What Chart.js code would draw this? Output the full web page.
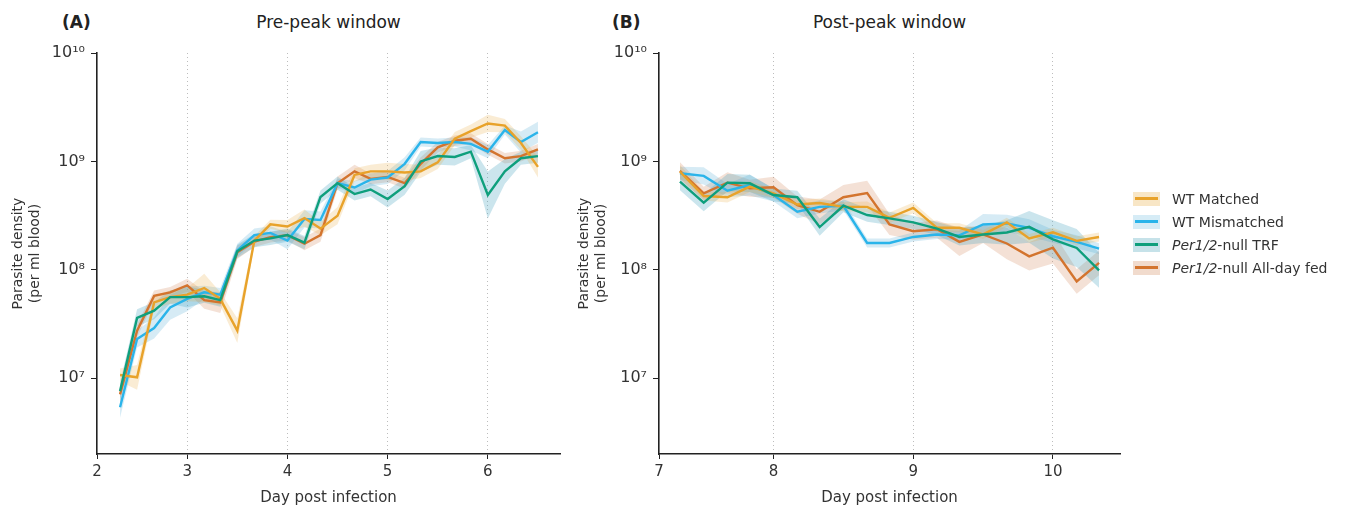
<!DOCTYPE html>
<html>
<head>
<meta charset="utf-8">
<script src="https://cdn.jsdelivr.net/npm/chart.js@4.4.1/dist/chart.umd.min.js"></script>
<style>
  body { margin:0; background:#fff; width:1352px; height:509px; overflow:hidden; position:relative;
         font-family:"DejaVu Sans", Verdana, sans-serif; color:#333; }
  canvas { position:absolute; top:0; }
  .ttl { position:absolute; top:12px; font-size:17px; color:#222; white-space:nowrap; }
  .pl { position:absolute; top:12px; font-size:17px; font-weight:bold; color:#222; }
  #legend { position:absolute; left:1133px; top:187px; font-size:14px; color:#333; }
  .row { height:23px; display:flex; align-items:center; white-space:nowrap; }
  .sw { width:27px; height:14px; position:relative; margin-right:12px; flex:none; }
  .sw i { position:absolute; left:2px; right:2px; top:5px; height:3px; }
</style>
</head>
<body>
<div class="pl" style="left:62px">(A)</div>
<div class="ttl" style="left:97px;width:463px;text-align:center">Pre-peak window</div>
<div class="pl" style="left:612px">(B)</div>
<div class="ttl" style="left:659px;width:461px;text-align:center">Post-peak window</div>
<canvas id="cA" width="580" height="509" style="left:0px;width:580px;height:509px"></canvas>
<canvas id="cB" width="574" height="509" style="left:566px;width:574px;height:509px"></canvas>
<div id="legend"></div>
<script>
// ---------- data ----------
const dayPre  = [2.33,2.5,2.67,2.83,3,3.17,3.33,3.5,3.67,3.83,4,4.17,4.33,4.5,4.67,4.83,5,5.17,5.33,5.5,5.67,5.83,6,6.17,6.33,6.5];
const dayPost = [7.33,7.5,7.67,7.83,8,8.17,8.33,8.5,8.67,8.83,9,9.17,9.33,9.5,9.67,9.83,10,10.17,10.33];

const seriesLabels = ['WT Matched','WT Mismatched','Per1/2-null TRF','Per1/2-null All-day fed'];

// Pre-peak window (parasites per ml blood)
const preWTMatched    = [1.07e7,1.02e7,5.0e7,5.6e7,5.9e7,6.8e7,5.4e7,2.75e7,1.86e8,2.63e8,2.51e8,3.0e8,2.4e8,3.16e8,7.5e8,8.1e8,8.1e8,7.9e8,8.1e8,9.8e8,1.62e9,1.9e9,2.24e9,2.14e9,1.48e9,8.9e8];
const preWTMismatched = [5.4e6,2.3e7,2.9e7,4.5e7,5.4e7,6.2e7,5.9e7,1.51e8,2.09e8,2.19e8,1.86e8,2.95e8,2.88e8,6.3e8,5.75e8,6.8e8,7.1e8,9.5e8,1.51e9,1.48e9,1.51e9,1.45e9,1.23e9,1.95e9,1.51e9,1.86e9];
const prePerTRF       = [7.6e6,3.6e7,4.2e7,5.6e7,5.6e7,5.7e7,5.25e7,1.48e8,1.86e8,1.95e8,2.09e8,1.78e8,4.7e8,6.3e8,5.0e8,5.5e8,4.5e8,5.9e8,1.0e9,1.12e9,1.10e9,1.23e9,4.9e8,8.1e8,1.07e9,1.12e9];
const prePerAllDay    = [7.1e6,2.75e7,5.75e7,6.2e7,7.2e7,5.25e7,5.0e7,1.45e8,1.82e8,2.0e8,2.09e8,1.74e8,2.09e8,6.3e8,8.1e8,6.9e8,7.2e8,6.3e8,9.5e8,1.35e9,1.55e9,1.62e9,1.29e9,1.07e9,1.12e9,1.29e9];
// ribbon half-width as fold change (upper = v*f, lower = v/f)
const preWTMatchedSpread    = [1.15,1.3,1.15,1.15,1.15,1.35,1.15,1.3,1.1,1.1,1.15,1.2,1.15,1.2,1.15,1.15,1.2,1.2,1.15,1.15,1.15,1.15,1.2,1.15,1.15,1.25];
const preWTMismatchedSpread = [1.25,1.2,1.25,1.3,1.3,1.15,1.15,1.15,1.15,1.15,1.2,1.2,1.2,1.1,1.15,1.15,1.15,1.15,1.1,1.1,1.1,1.15,1.15,1.1,1.25,1.25];
const prePerTRFSpread       = [1.2,1.2,1.2,1.15,1.25,1.15,1.15,1.15,1.15,1.15,1.15,1.15,1.15,1.15,1.15,1.15,1.2,1.2,1.25,1.2,1.2,1.15,1.65,1.3,1.15,1.15];
const prePerAllDaySpread    = [1.2,1.15,1.12,1.12,1.15,1.2,1.25,1.15,1.12,1.12,1.12,1.15,1.15,1.15,1.15,1.12,1.12,1.12,1.15,1.12,1.12,1.12,1.12,1.12,1.12,1.12];

// Post-peak window
const postWTMatched    = [8.05e8,4.8e8,4.67e8,5.85e8,5.08e8,4.0e8,4.13e8,3.81e8,3.81e8,3.02e8,3.73e8,2.44e8,2.44e8,2.12e8,2.74e8,1.95e8,2.22e8,1.85e8,2.01e8];
const postWTMismatched = [7.78e8,7.35e8,5.37e8,6.05e8,4.9e8,3.43e8,3.81e8,3.9e8,1.77e8,1.77e8,2.01e8,2.12e8,2.08e8,2.62e8,2.68e8,2.44e8,2.04e8,1.81e8,1.57e8];
const postPerTRF       = [6.5e8,4.16e8,6.37e8,6.28e8,4.9e8,4.67e8,2.48e8,3.9e8,3.2e8,2.98e8,2.74e8,2.4e8,2.01e8,2.12e8,2.21e8,2.49e8,1.91e8,1.59e8,9.9e7];
const postPerAllDay    = [8.2e8,5.08e8,6.37e8,5.65e8,5.77e8,3.95e8,3.43e8,4.67e8,5.1e8,2.62e8,2.27e8,2.37e8,1.81e8,2.12e8,1.75e8,1.33e8,1.6e8,7.8e7,1.16e8];
const postWTMatchedSpread    = [1.15,1.1,1.12,1.12,1.1,1.1,1.1,1.1,1.12,1.12,1.12,1.1,1.1,1.1,1.1,1.1,1.1,1.1,1.1];
const postWTMismatchedSpread = [1.15,1.2,1.15,1.25,1.15,1.15,1.15,1.1,1.1,1.1,1.1,1.1,1.1,1.25,1.2,1.2,1.15,1.15,1.12];
const postPerTRFSpread       = [1.2,1.2,1.2,1.2,1.15,1.15,1.2,1.15,1.15,1.15,1.15,1.15,1.2,1.2,1.3,1.4,1.5,1.5,1.45];
const postPerAllDaySpread    = [1.2,1.15,1.25,1.2,1.25,1.2,1.3,1.3,1.3,1.25,1.2,1.2,1.35,1.2,1.4,1.35,1.4,1.3,1.3];

// axis ticks
const yTickValues = [1e7, 1e8, 1e9, 1e10];
const yTickLabels = ['10\u2077', '10\u2078', '10\u2079', '10\u00B9\u2070'];
const xTickValuesPre  = [2.1, 3, 4, 5, 6];
const xTickLabelsPre  = ['2', '3', '4', '5', '6'];
const xTickValuesPost = [7.18, 8, 9, 10];
const xTickLabelsPost = ['7', '8', '9', '10'];

// ---------- styles ----------
const lineColors = ['#E8A22A', '#2AB4EA', '#0E9F7C', '#D3742E'];
const bandColors = ['rgba(232,170,60,0.22)', 'rgba(70,165,210,0.22)', 'rgba(70,160,190,0.28)', 'rgba(205,120,70,0.22)'];
const legendBg   = ['#F8E6C6', '#D6ECF6', '#C6E2E9', '#F1DBCD'];
const FONT = '"DejaVu Sans", Verdana, sans-serif';

function buildDatasets(days, values, spreads) {
  const ds = [];
  values.forEach((vals, s) => {
    ds.push({ data: days.map((d, i) => ({ x: d, y: vals[i] * spreads[s][i] })),
      borderWidth: 0, pointRadius: 0, fill: false, order: 10 });
    ds.push({ data: days.map((d, i) => ({ x: d, y: vals[i] / spreads[s][i] })),
      borderWidth: 0, pointRadius: 0, fill: '-1', backgroundColor: bandColors[s], order: 10 });
  });
  values.forEach((vals, s) => {
    ds.push({ label: seriesLabels[s], data: days.map((d, i) => ({ x: d, y: vals[i] })),
      borderColor: lineColors[s], borderWidth: 2.4, pointRadius: 0, fill: false, tension: 0, order: s === 2 ? 0 : 1 });
  });
  return ds;
}

function makePanel(id, days, values, spreads, xMin, xMax, xTicks, xLabels, yWidth) {
  new Chart(document.getElementById(id), {
    type: 'line',
    data: { datasets: buildDatasets(days, values, spreads) },
    options: {
      responsive: false, animation: false, devicePixelRatio: 1,
      layout: { padding: { left: 0, right: 20, top: 53, bottom: 0 } },
      plugins: { legend: { display: false }, tooltip: { enabled: false } },
      scales: {
        x: {
          type: 'linear', min: xMin, max: xMax,
          afterBuildTicks: ax => { ax.ticks = xTicks.map(v => ({ value: v })); },
          afterFit: sc => { sc.height = 55; },
          ticks: { callback: (v, i) => xLabels[i], autoSkip: false, maxRotation: 0, padding: 4,
                   color: '#333', font: { family: FONT, size: 15 } },
          grid: { color: ctx => ctx.index === 0 ? 'rgba(0,0,0,0)' : '#bdbdbd', lineWidth: 1,
                  drawTicks: true, tickLength: 5, tickColor: '#222', tickWidth: 1 },
          border: { display: true, color: '#222', width: 1.6, dash: [1, 3] },
          title: { display: true, text: 'Day post infection', color: '#333',
                   font: { family: FONT, size: 15 }, padding: { top: 0, bottom: 2 } }
        },
        y: {
          type: 'logarithmic', min: 2e6, max: 1e10,
          afterBuildTicks: ax => { ax.ticks = yTickValues.map(v => ({ value: v })); },
          afterFit: sc => { sc.width = yWidth; },
          ticks: { callback: (v, i) => yTickLabels[i], autoSkip: false, padding: 6,
                   color: '#333', font: { family: FONT, size: 16 } },
          grid: { drawOnChartArea: false, drawTicks: true, tickLength: 6, color: '#222', tickColor: '#222' },
          border: { display: true, color: '#222', width: 1.6 },
          title: { display: true, text: ['Parasite density', '(per ml blood)'], color: '#333',
                   font: { family: FONT, size: 14 }, padding: { top: 10, bottom: 0 } }
        }
      }
    }
  });
}

makePanel('cA', dayPre,
  [preWTMatched, preWTMismatched, prePerTRF, prePerAllDay],
  [preWTMatchedSpread, preWTMismatchedSpread, prePerTRFSpread, prePerAllDaySpread],
  2.1, 6.72, xTickValuesPre, xTickLabelsPre, 97);
makePanel('cB', dayPost,
  [postWTMatched, postWTMismatched, postPerTRF, postPerAllDay],
  [postWTMatchedSpread, postWTMismatchedSpread, postPerTRFSpread, postPerAllDaySpread],
  7.18, 10.48, xTickValuesPost, xTickLabelsPost, 93);

// ---------- legend ----------
const legendHtml = [
  'WT Matched', 'WT Mismatched',
  '<i>Per1/2</i>-null TRF', '<i>Per1/2</i>-null All-day fed'
];
const leg = document.getElementById('legend');
seriesLabels.forEach((name, s) => {
  const row = document.createElement('div');
  row.className = 'row';
  row.innerHTML = '<span class="sw" style="background:' + legendBg[s] + '"><i style="background:' +
    lineColors[s] + '"></i></span><span>' + legendHtml[s] + '</span>';
  leg.appendChild(row);
});
</script>
</body>
</html>
